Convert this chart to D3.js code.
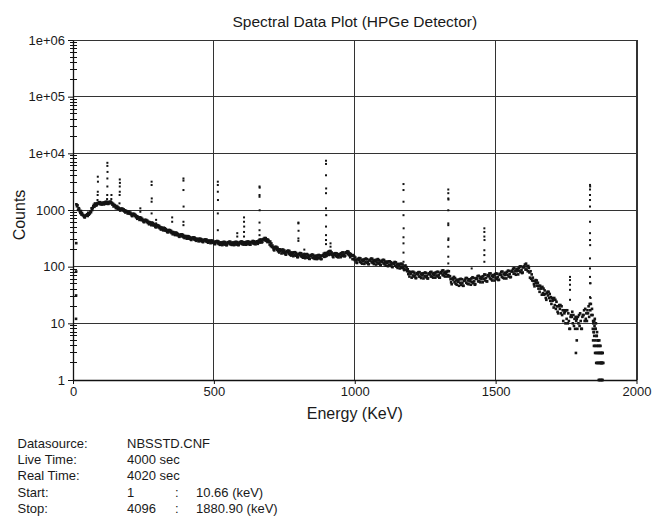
<!DOCTYPE html>
<html><head><meta charset="utf-8">
<script src="https://cdn.jsdelivr.net/npm/d3@7"></script>
<style>body{margin:0;background:#fff}svg{display:block}text{font-family:"Liberation Sans",Arial,Helvetica,sans-serif;fill:#1a1a1a}</style>
</head><body><svg id="c" width="653" height="521"></svg>
<script>
const xTicks=[0,500,1000,1500,2000];
const yTicks=[1,10,100,1000,1e4,1e5,1e6];
const yTickLabels=["1","10","100","1000","1e+04","1e+05","1e+06"];
const titleText="Spectral Data Plot (HPGe Detector)";
const xTitle="Energy (KeV)";
const yTitle="Counts";
const infoLabels=["Datasource:","Live Time:","Real Time:","Start:","Stop:"];
const infoValues=["NBSSTD.CNF","4000 sec","4020 sec","1","4096"];
const infoColons=["","","",":",":"];
const infoEnergies=["","","","10.66 (keV)","1880.90 (keV)"];

// first channels [energy, counts]
const startPoints=[[10.7,12],[10.9,31],[11.2,82],[11.5,260]];
// continuum readings: [energy, counts at E, counts at E+2, counts at E+4]
const continuum=[
[12,1260,1164,1212],[18,1003,1076,1045],[24,948,884,962],[30,832,883,816],[36,818,782,750],[42,741,792,803],[48,808,840,784],[54,892,825,858],[60,879,943,915],[66,1071,998,1086],[72,1162,1233,1139],[78,1304,1247,1197],[84,1226,1309,1328],[90,1313,1365,1274],[96,1375,1271,1323],[102,1247,1338,1299],[108,1346,1254,1366],[114,1315,1395,1288],[120,1397,1337,1283],[126,1287,1375,1396],[132,1353,1407,1313],[138,1344,1242,1293],[144,1156,1240,1204],[150,1163,1083,1180],[156,1074,1140,1052],[162,1097,1049,1007],[168,978,1046,1061],[174,1010,1050,980],[180,1024,946,985],[186,903,969,940],[192,933,869,947],[198,875,928,857],
[204,896,850,808],[210,780,845,860],[216,810,848,781],[222,816,742,779],[228,700,762,736],[234,729,669,742],[240,678,727,661],[246,696,660,628],[252,609,660,671],[258,636,666,613],[264,647,588,617],[270,560,610,588],[276,589,540,600],[282,548,588,535],[288,563,535,509],[294,493,535,544],[300,511,535,493],[306,523,475,499],[312,452,492,475],[318,477,438,486],[324,444,476,433],[330,458,435,414],[336,402,436,444],[342,421,441,406],[348,429,391,410],[354,373,407,393],[360,393,361,400],[366,367,394,359],[372,380,361,343],[378,336,363,370],[384,354,371,342],[390,365,331,348],[396,320,348,336],[402,340,312,346],[408,320,344,312],[414,333,316,301],[420,296,321,326],[426,314,329,302],[432,324,295,310],[438,286,311,300],[444,305,280,311],[450,290,311,282],[456,305,288,274],[462,272,294,299],[468,289,303,279],[474,300,273,286],[480,265,289,278],[486,284,260,289],[492,269,288,263],[498,282,268,255],
[504,249,274,279],[510,269,284,257],[516,279,250,265],[522,243,268,257],[528,265,240,271],[534,253,274,245],[540,271,254,240],[546,240,263,269],[552,262,276,251],[558,276,247,262],[564,242,267,256],[570,265,240,271],[576,253,274,245],[582,272,255,241],[588,241,264,270],[594,264,278,253],[600,278,249,264],[606,245,270,259],[612,269,244,275],[618,257,278,249],[624,276,259,245],[630,246,269,275],[636,269,284,257],[642,281,252,267],[648,249,276,264],[654,280,253,285],[660,274,298,266],[666,302,284,268],[672,274,301,308],[678,303,320,291],[684,319,285,302],[690,272,300,288],[696,273,246,278],
[702,232,257,223],[708,236,218,202],[714,194,219,224],[720,209,223,198],[726,216,187,202],[732,178,202,191],[738,195,171,200],[744,180,200,173],[750,193,179,166],[756,163,184,189],[762,179,192,170],[768,189,163,176],[774,157,178,169],[780,174,153,179],[786,162,180,156],[792,174,160,148],[798,147,165,169],[804,163,174,154],[810,172,150,161],[816,144,164,156],[822,161,141,165],[828,150,167,144],[834,162,149,138],[840,137,155,159],[846,153,164,144],[852,162,141,152],[858,137,156,148],[864,154,136,158],[870,145,161,140],[876,158,146,136],[882,137,155,159],[888,158,169,149],[894,174,152,163],[900,155,176,167],[906,183,161,188],[912,170,189,164],[918,178,164,152],[924,147,167,171],[930,162,173,153],[936,171,149,160],[942,146,166,158],[948,168,147,173],[954,160,178,154],[960,178,164,152],[966,156,176,180],[972,175,187,166],[978,183,159,171],[984,147,167,159],[990,156,136,160],[996,136,152,131],
[1002,145,131,119],[1008,116,134,138],[1014,131,142,122],[1020,140,118,129],[1026,113,133,125],[1032,132,112,136],[1038,122,139,116],[1044,135,122,111],[1050,111,129,133],[1056,128,139,119],[1062,138,116,127],[1068,111,131,123],[1074,129,109,133],[1080,119,136,113],[1086,131,119,109],[1092,107,124,128],[1098,122,132,114],[1104,131,110,121],[1110,104,123,115],[1116,120,102,124],[1122,109,124,105],[1128,120,110,100],[1134,98,114,117],[1140,111,121,104],[1146,119,100,109],[1152,95,112,105],[1158,108,93,112],[1164,100,113,95],[1170,109,99,90],[1176,87,101,105],
[1182,89,98,83],[1188,90,74,82],[1194,67,81,75],[1200,78,64,81],[1206,70,81,67],[1212,78,70,63],[1218,63,75,77],[1224,73,80,67],[1230,80,66,73],[1236,63,76,70],[1242,75,62,77],[1248,68,79,65],[1254,77,69,62],[1260,62,74,76],[1266,73,80,67],[1272,81,67,74],[1278,64,77,71],[1284,77,64,79],[1290,70,81,67],[1296,81,72,64],[1302,64,77,80],[1308,77,85,71],[1314,86,70,78],[1320,67,81,75],[1326,81,67,84],[1332,71,83,67],
[1338,68,60,53],[1344,49,61,63],[1350,59,66,53],[1356,63,50,57],[1362,48,59,54],[1368,57,46,60],[1374,52,61,48],[1380,60,52,46],[1386,46,56,59],[1392,57,63,52],[1398,63,50,57],[1404,49,60,55],[1410,59,48,62],[1416,54,65,51],[1422,63,55,48],[1428,49,61,63],[1434,61,68,55],[1440,69,55,62],[1446,53,66,60],[1452,66,53,68],[1458,61,73,57],[1464,72,63,55],[1470,55,68,71],[1476,68,76,62],[1482,76,60,68],[1488,57,71,65],[1494,71,57,74],[1500,64,76,60],[1506,75,66,58],[1512,59,72,75],[1518,72,81,66],[1524,82,64,73],[1530,62,78,71],[1536,77,62,81],[1542,72,85,67],[1548,84,74,65],[1554,66,82,85],[1560,82,92,75],[1566,94,75,84],[1572,72,91,83],[1578,91,73,95],[1584,85,101,80],[1590,101,88,77],[1596,79,97,101],[1602,98,109,89],[1608,113,89,101],[1614,83,103,95],
[1620,79,64,83],[1626,61,73,57],[1632,64,56,49],[1638,45,55,58],[1644,51,57,46],[1650,52,41,46],[1656,36,46,41],[1662,42,32,44],[1668,34,41,32],[1674,38,33,28],[1680,26,34,36],[1686,31,36,28],[1692,33,25,29],[1698,22,28,25],[1704,26,19,28],[1710,21,26,18],[1716,24,20,16],[1722,15,20,21],[1728,18,21,15],[1734,20,14,17],[1740,11,17,15],[1746,16,10,17],[1752,12,17,10],[1758,15,11,8],[1764,8,13,14],[1770,13,16,10],[1776,14,9,12],[1782,8,13,11],[1788,12,8,13],[1794,10,14,9],[1800,15,11,8],[1806,8,13,14],[1812,14,17,11],[1818,18,12,15],[1824,11,17,15],[1830,20,13,22],[1836,17,22,14],[1842,18,14,11],[1848,7,11,12],[1854,8,10,6],[1860,7,4,5],[1866,2,5,3],[1872,4,2,3],[1878,1,3,2]
];
// low-count tail channels [energy, counts]
const tailPoints=[[1845,8],[1846,5],[1847,10],[1849,4],[1850,6],[1851,9],[1853,3],[1854,5],[1855,8],[1857,2],[1858,4],[1859,6],[1861,3],[1862,5],[1863,2],[1865,4],[1866,1],[1867,3],[1869,2],[1870,4],[1871,1],[1873,3],[1874,2],[1875,1],[1877,2],[1878,3],[1879,1],[1880.5,2],[1848.5,7],[1852.5,4],[1856.5,3],[1860.5,2],[1864.5,3],[1868.5,1],[1872.5,2],[1876.5,2],[1785,3],[1788,5]];
// photopeak channels [energy, counts]
const peakPoints=[
[87,1500],[87.5,1840],[88,2100],[88.5,3160],[88,3870],
[121,1560],[121.5,1840],[122,2600],[122,3600],[122.5,4700],[122,6000],[122,6800],
[136,1560],[136.5,1840],
[165,1310],[165.5,1840],[166,2100],[166,2600],[166.5,3010],[166,3460],
[239,930],[239,1070],
[279,870],[279,1400],[279.5,1600],[279,2760],[279,3160],
[295,580],[295,670],
[352,620],[352,740],
[392,540],[392,620],[392.5,1150],[392,2250],[392,3300],[392,3600],
[514,440],[514,870],[514.5,1500],[514,2100],[514,2760],[514,3160],
[583,340],[583,390],
[607,340],[607,410],[607.5,510],[607,620],[607,740],
[662,360],[662,440],[662,600],[662.5,990],[662,1710],[662,1840],[662.5,2480],[662,2600],
[800,285],[800,315],[800.5,430],[800,580],[800,600],
[821,170],[821,200],
[898,250],[898,295],[898,360],[898,510],[898.5,810],[898,1070],[898,1980],[898.5,2400],[898,4100],[898,6500],[898,7400],
[914,225],[914,258],
[1173,122],[1173,177],[1173,258],[1173,330],[1173.5,475],[1173,810],[1173,1400],[1173,2250],[1173,2870],
[1332,114],[1332,150],[1332,225],[1332,295],[1332.5,315],[1332,540],[1332,580],[1332,990],[1332.5,1530],[1332,1600],[1332,1980],[1332,2300],
[1415,93],
[1460,122],[1460,160],[1460,195],[1460.5,295],[1460,340],[1460,410],[1460,475],
[1764,26],[1764,39],[1764,48],[1764,58],[1764,66],
[1835,29],[1835,51],[1835,66],[1835,93],[1835,140],[1835.5,240],[1835,295],[1835,390],[1835,620],[1835,1150],[1835,1500],[1835,1840],[1835,2300],[1835.5,2600],[1835,2770],[1837,28],[1837,51]
];

const svg=d3.select("#c");
const x=d3.scaleLinear().domain([0,2000]).range([73,636.5]);
const y=d3.scaleLog().domain([1,1e6]).range([380,40]);
const gridColor="#333";

// grid
svg.append("g").attr("shape-rendering","crispEdges").selectAll("line")
  .data(yTicks.filter(d=>d>1)).join("line")
  .attr("x1",x(0)).attr("x2",x(2000)).attr("y1",d=>y(d)).attr("y2",d=>y(d))
  .attr("stroke",gridColor).attr("stroke-width",1);
svg.append("g").attr("shape-rendering","crispEdges").selectAll("line")
  .data(xTicks.filter(d=>d>0)).join("line")
  .attr("x1",d=>x(d)).attr("x2",d=>x(d)).attr("y1",y(1)).attr("y2",y(1e6))
  .attr("stroke",gridColor).attr("stroke-width",d=>d===2000?2:1);

// continuum points (dense band)
const bandPts=[];
startPoints.forEach(p=>bandPts.push(p));
continuum.forEach(r=>{bandPts.push([r[0],r[1]]);bandPts.push([r[0]+2,r[2]]);bandPts.push([r[0]+4,r[3]]);});
tailPoints.forEach(p=>bandPts.push(p));
svg.append("g").selectAll("rect").data(bandPts).join("rect")
  .attr("x",d=>x(d[0])-1.3).attr("y",d=>y(d[1])-1.3).attr("width",2.6).attr("height",2.6)
  .attr("fill","#141414");
// peak points
svg.append("g").selectAll("rect").data(peakPoints).join("rect")
  .attr("x",d=>x(d[0])-1).attr("y",d=>y(d[1])-1).attr("width",2).attr("height",2)
  .attr("fill","#141414");

// y axis
const yAxis=svg.append("g").attr("transform","translate(73,0)")
  .call(d3.axisLeft(y).tickValues(yTicks).tickFormat((d,i)=>yTickLabels[i]).tickSize(5).tickSizeOuter(0).tickPadding(3));
const minor=y.ticks().filter(d=>!yTicks.includes(d));
yAxis.append("g").attr("shape-rendering","crispEdges").selectAll("line").data(minor).join("line")
  .attr("x1",-3.5).attr("x2",3.5).attr("y1",d=>y(d)).attr("y2",d=>y(d)).attr("stroke","#111");
// x axis
const xAxis=svg.append("g").attr("transform","translate(0,380)")
  .call(d3.axisBottom(x).tickValues(xTicks).tickFormat(d3.format("d")).tickSize(4).tickSizeOuter(0).tickPadding(3));
[yAxis,xAxis].forEach(g=>{
  g.selectAll("path.domain").attr("stroke","#111").attr("stroke-width",1.3);
  g.selectAll(".tick line").attr("stroke","#111");
  g.selectAll("text").attr("font-size",13).attr("font-family","'Liberation Sans',Arial,sans-serif").attr("fill","#1a1a1a");
});

// titles
svg.append("text").attr("x",354.75).attr("y",27).attr("text-anchor","middle").attr("font-size",15.5).text(titleText);
svg.append("text").attr("x",354.75).attr("y",419).attr("text-anchor","middle").attr("font-size",16).text(xTitle);
svg.append("text").attr("transform","translate(25,215) rotate(-90)").attr("text-anchor","middle").attr("font-size",16).text(yTitle);

// info block
const info=svg.append("g").attr("font-size",13);
infoLabels.forEach((t,i)=>{
  const yy=448+i*16.2;
  info.append("text").attr("x",17.5).attr("y",yy).text(t);
  info.append("text").attr("x",127).attr("y",yy).text(infoValues[i]);
  if(infoColons[i]) info.append("text").attr("x",175).attr("y",yy).text(infoColons[i]);
  if(infoEnergies[i]) info.append("text").attr("x",196).attr("y",yy).text(infoEnergies[i]);
});
</script></body></html>
